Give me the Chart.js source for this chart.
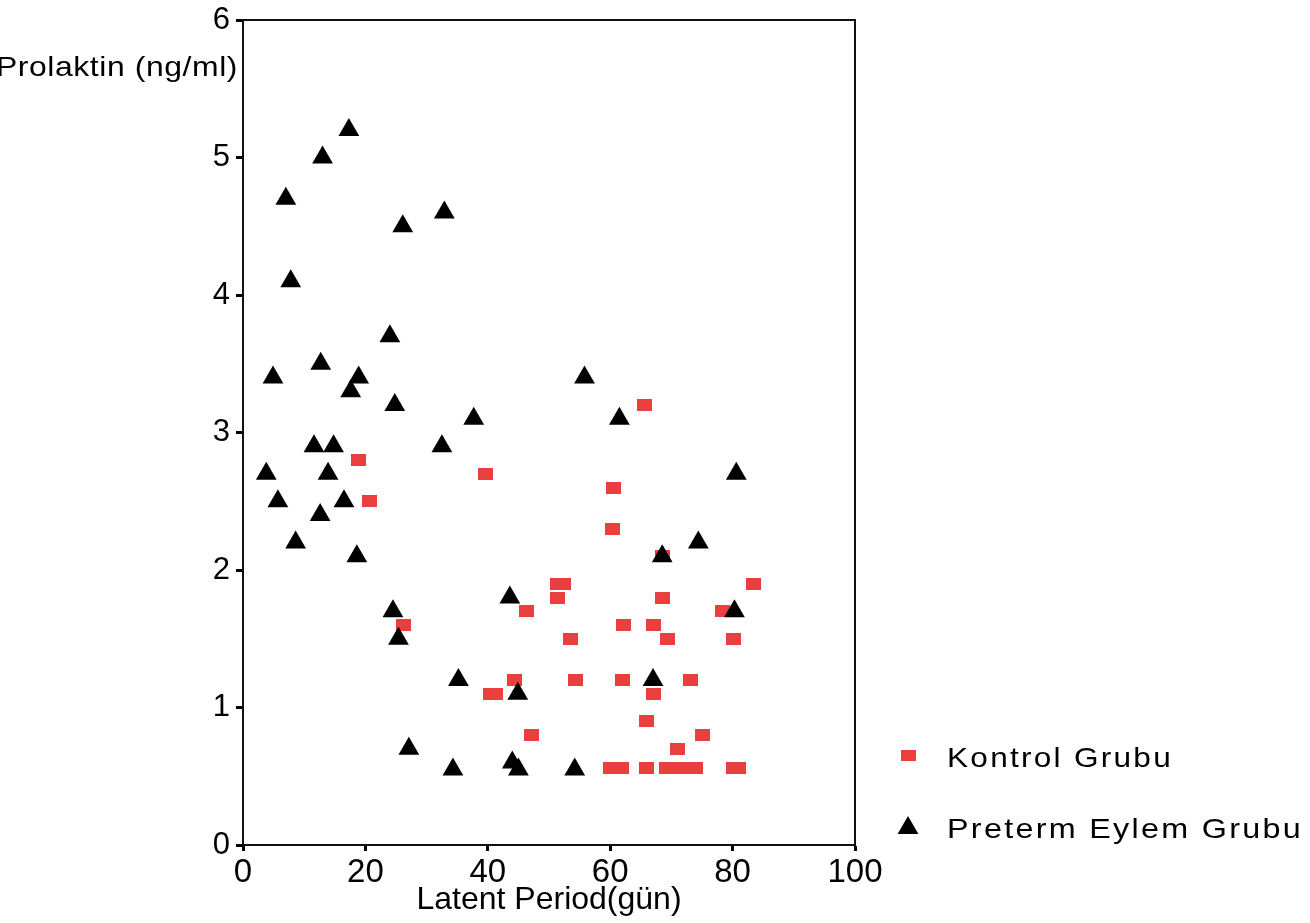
<!DOCTYPE html>
<html>
<head>
<meta charset="utf-8">
<script src="https://cdn.jsdelivr.net/npm/chart.js@4.4.1/dist/chart.umd.min.js"></script>
<style>
  html, body { margin: 0; padding: 0; background: #fff; }
  #wrap { width: 1310px; height: 923px; }
</style>
</head>
<body>
<div id="wrap"><canvas id="c" width="1310" height="923"></canvas></div>
<script>
// ---- Data ----
const seriesNames = ['Kontrol Grubu', 'Preterm Eylem Grubu'];
const xTitle = 'Latent Period(gün)';
const yTitle = 'Prolaktin (ng/ml)';
const xTicks = [0, 20, 40, 60, 80, 100];
const yTicks = [0, 1, 2, 3, 4, 5, 6];

const kontrolX = [18.8, 20.7, 39.6, 26.3, 46.3, 40.4, 41.2, 44.4, 47.1, 65.6,
                  60.5, 60.4, 68.5, 83.4, 51.4, 52.4, 51.4, 68.5, 78.3, 62.2,
                  67.1, 69.3, 53.5, 80.1, 54.3, 62.0, 67.0, 73.2, 66.0, 75.0,
                  71.0, 60.0, 61.8, 65.9, 69.2, 71.6, 74.0, 80.1, 80.9];
const kontrolY = [2.8, 2.5, 2.7, 1.6, 1.7, 1.1, 1.1, 1.2, 0.8, 3.2,
                  2.6, 2.3, 2.1, 1.9, 1.9, 1.9, 1.8, 1.8, 1.7, 1.6,
                  1.6, 1.5, 1.5, 1.5, 1.2, 1.2, 1.1, 1.2, 0.9, 0.8,
                  0.7, 0.56, 0.56, 0.56, 0.56, 0.56, 0.56, 0.56, 0.56];

const pretermX = [17.3, 13.0, 7.0, 32.9, 26.1, 7.8, 24.0, 4.9, 12.7, 18.9,
                  17.6, 24.8, 55.8, 37.7, 61.5, 11.6, 14.8, 32.5, 3.8, 13.9,
                  5.7, 16.5, 12.6, 8.6, 18.6, 80.6, 74.4, 68.5, 24.5, 25.4,
                  43.6, 80.3, 35.2, 44.9, 67.0, 27.1, 34.3, 44.0, 45.0, 54.2];
const pretermY = [5.2, 5.0, 4.7, 4.6, 4.5, 4.1, 3.7, 3.4, 3.5, 3.4,
                  3.3, 3.2, 3.4, 3.1, 3.1, 2.9, 2.9, 2.9, 2.7, 2.7,
                  2.5, 2.5, 2.4, 2.2, 2.1, 2.7, 2.2, 2.1, 1.7, 1.5,
                  1.8, 1.7, 1.2, 1.1, 1.2, 0.7, 0.55, 0.6, 0.55, 0.55];

// ---- Styling ----
const RED = '#ea3f3f';
const BLACK = '#000000';
const FONT = '"Liberation Sans", Arial, sans-serif';

function rectImage(w, h, color) {
  const c = document.createElement('canvas');
  c.width = w; c.height = h;
  const g = c.getContext('2d');
  g.fillStyle = color;
  g.fillRect(0, 0, w, h);
  return c;
}
const redRect = rectImage(15, 12, RED);

const toPoints = (xs, ys) => xs.map((x, i) => ({ x: x, y: ys[i] }));

// draw text stretched horizontally to a target width (scanned original is wide)
function wideText(ctx, text, x, y, size, targetW, spacing) {
  ctx.save();
  ctx.font = size + 'px ' + FONT;
  ctx.letterSpacing = spacing + 'px';
  ctx.textAlign = 'left';
  ctx.textBaseline = 'middle';
  const w = ctx.measureText(text).width;
  const k = targetW / w;
  ctx.translate(x, y);
  ctx.scale(k, 1);
  ctx.fillText(text, 0, 0);
  ctx.restore();
}

const framePlugin = {
  id: 'frameAndLabels',
  afterDraw(chart) {
    const ctx = chart.ctx;
    const a = chart.chartArea;
    ctx.save();
    ctx.strokeStyle = '#111';
    ctx.lineWidth = 2;
    ctx.beginPath();
    ctx.moveTo(a.left, a.top);
    ctx.lineTo(a.right, a.top);
    ctx.lineTo(a.right, a.bottom);
    ctx.stroke();

    ctx.fillStyle = BLACK;
    // y-axis title, horizontal, top-left (left edge of "P" cut by the page edge)
    wideText(ctx, yTitle, -4, 68, 28, 242, 0.5);

    // legend
    const legendY = [757, 828];
    const legendW = [226, 356];
    chart.data.datasets.forEach((ds, i) => {
      const y = legendY[i];
      if (ds.pointStyle === 'triangle') {
        const r = 12;
        ctx.fillStyle = ds.backgroundColor;
        ctx.beginPath();
        ctx.moveTo(908, y - r);
        ctx.lineTo(908 + Math.sin(2 * Math.PI / 3) * r, y + r / 2);
        ctx.lineTo(908 - Math.sin(2 * Math.PI / 3) * r, y + r / 2);
        ctx.closePath();
        ctx.fill();
      } else {
        ctx.drawImage(ds.pointStyle, 908 - 7.5, y - 7, 15, 11);
      }
      ctx.fillStyle = BLACK;
      wideText(ctx, ds.label, 947, y + 2, 28, legendW[i], 2);
    });
    ctx.restore();
  }
};

new Chart(document.getElementById('c'), {
  type: 'scatter',
  data: {
    datasets: [
      {
        label: seriesNames[0],
        data: toPoints(kontrolX, kontrolY),
        pointStyle: redRect,
        backgroundColor: RED,
        borderColor: RED,
        order: 2
      },
      {
        label: seriesNames[1],
        data: toPoints(pretermX, pretermY),
        pointStyle: 'triangle',
        pointRadius: 12,
        pointHoverRadius: 12,
        borderWidth: 0,
        backgroundColor: BLACK,
        borderColor: BLACK,
        order: 1
      }
    ]
  },
  options: {
    responsive: false,
    animation: false,
    devicePixelRatio: 1,
    layout: { padding: { top: 20, right: 455, bottom: 0, left: 0 } },
    plugins: {
      legend: { display: false },
      tooltip: { enabled: false },
      title: { display: false }
    },
    scales: {
      x: {
        type: 'linear',
        min: xTicks[0],
        max: xTicks[xTicks.length - 1],
        afterBuildTicks: (s) => { s.ticks = xTicks.map(v => ({ value: v })); },
        afterFit: (s) => { s.height = 78; },
        border: { display: true, color: '#111', width: 2 },
        grid: { drawOnChartArea: false, drawTicks: true, tickLength: 6, tickWidth: 3, color: '#000' },
        ticks: { color: BLACK, font: { family: FONT, size: 33 }, padding: 2, maxRotation: 0 },
        title: { display: true, text: xTitle, color: BLACK, font: { family: FONT, size: 32 }, padding: { top: 0, bottom: 4 } }
      },
      y: {
        type: 'linear',
        min: yTicks[0],
        max: yTicks[yTicks.length - 1],
        afterBuildTicks: (s) => { s.ticks = yTicks.map(v => ({ value: v })); },
        afterFit: (s) => { s.width = 243; s.paddingTop = 0; s.paddingBottom = 0; },
        border: { display: true, color: '#111', width: 2 },
        grid: { drawOnChartArea: false, drawTicks: true, tickLength: 7, tickWidth: 3, color: '#000' },
        ticks: { color: BLACK, font: { family: FONT, size: 31 }, padding: 6 }
      }
    }
  },
  plugins: [framePlugin]
});
</script>
</body>
</html>
